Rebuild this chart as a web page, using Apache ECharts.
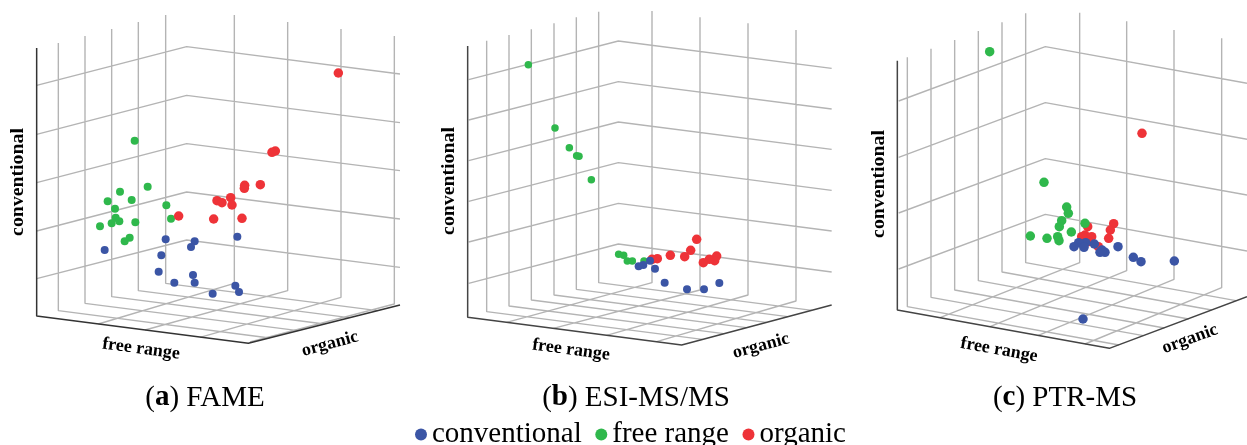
<!DOCTYPE html>
<html><head><meta charset="utf-8">
<style>html,body{margin:0;padding:0;background:#fff}#c{width:1247px;height:445px}</style>
<script src="https://cdn.jsdelivr.net/npm/echarts@6/dist/echarts.min.js"></script>
</head><body><div id="c"></div>
<script>
const seriesNames = ['conventional', 'free range', 'organic'];
const panelTitles = [['a', 'FAME'], ['b', 'ESI-MS/MS'], ['c', 'PTR-MS']];
const axisNames = ['conventional', 'free range', 'organic'];

// Points (plane of the projected 3D plot)
const conventionalA = [[314,660],[497,628],[584,634],[573,651],[712,620],[484,676],[476,725],[579,735],[523,758],[584,758],[638,791],[706,767],[717,786]];
const freeRangeA = [[404,332],[443,470],[360,485],[323,514],[395,510],[345,536],[499,526],[513,566],[347,563],[358,574],[335,580],[406,577],[300,589],[389,623],[374,634]];
const organicA = [[1015,129],[826,363],[816,367],[734,466],[733,475],[781,464],[692,503],[651,512],[666,518],[696,525],[536,558],[641,567],[726,565]];

const conventionalB = [[690,692],[670,705],[656,709],[705,716],[734,758],[801,778],[852,778],[898,759]];
const freeRangeB = [[325,104],[405,294],[448,353],[470,377],[477,379],[514,449],[596,673],[611,676],[622,693],[637,693],[672,693]];
const organicB = [[830,628],[812,661],[794,680],[751,676],[712,686],[696,688],[890,678],[884,692],[868,688],[850,698]];

const conventionalC = [[729,867],[1003,693],[903,695],[880,682],[834,650],[795,667],[780,667],[786,660],[763,642],[737,638],[716,638],[732,652],[702,650]];
const freeRangeC = [[449,65],[612,457],[680,531],[685,550],[665,572],[658,590],[735,580],[694,606],[571,618],[621,625],[653,620],[657,632]];
const organicC = [[906,310],[821,581],[811,600],[806,625],[743,590],[735,615],[755,620],[725,620],[745,635],[775,650]];

// Gridlines of the 3D box: [x, top, bottom]
const uprightsA = [[175,39,842],[255,18,820],[335,-3,800],[415,-24,782],[497,-45,760],[703,-45,760],[863,-24,782],[1023,-3,802],[1183,18,822]];
const uprightsB = [[200,32,845],[267,15,828],[334,-2,810],[402,-20,795],[469,-38,778],[536,-55,758],[696,-57,758],[840,-38,780],[984,-20,795],[1128,0,813]];
const uprightsC = [[202,82,830],[273,56,802],[344,30,780],[415,3,752],[486,-23,726],[557,-50,698],[719,-52,698],[860,-26,722],[1002,0,748],[1145,25,773]];
// Back-wall polylines: [left y, corner y, right y]
const wallsA = [[166,50,132],[313,196,278],[458,341,422],[603,486,567],[746,630,712]];
const wallsB = [[149,33,115],[270,155,237],[392,276,358],[514,398,481],[636,520,603],[760,642,726]];
const wallsC = [[213,50,160],[382,218,328],[549,386,495],[717,553,663]];
const wallXA = [110,560,1200], wallXB = [146,595,1235], wallXC = [176,616,1221];
// Floor lines: end of an upright to the far edge [x, y]
const floorEndsA = [[809,924],[894,902],[973,882],[1047,863],[1133,842],[295,882],[435,900],[600,922],[750,936]];
const floorEndsB = [[847,928],[911,911],[979,893],[1039,877],[1103,860],[1176,841],[260,877],[400,895],[560,916],[710,935]];
const floorEndsC = [[837,945],[910,917],[973,894],[1046,867],[1115,840],[1188,812],[300,863],[450,890],[595,916],[735,942]];
// Dark frame: top of axis, corner, front corner, right end
const frameA = [[110,54],[110,858],[745,940],[1200,825]];
const frameB = [[143,48],[143,862],[785,945],[1235,825]];
const frameC = [[172,92],[172,840],[808,955],[1221,800]];

const colors = ['#3b55a5', '#2fb84c', '#ee3338'];
const panels = [
  {left:0,   w:420, pts:[conventionalA,freeRangeA,organicA], sizes:[8,8,9.5], order:[5,3,4], up:uprightsA, walls:wallsA, wx:wallXA, fl:floorEndsA, fr:frameA, frameColor:'#333',
   cv:[18,182], fr2:[141,349,-7.5], or:[330,344,15], title:205},
  {left:420, w:420, pts:[conventionalB,freeRangeB,organicB], sizes:[8,7.5,9.5], order:[5,3,4], up:uprightsB, walls:wallsB, wx:wallXB, fl:floorEndsB, fr:frameB, frameColor:'#444',
   cv:[449,181], fr2:[571,350,-7.5], or:[761,346,15], title:636},
  {left:840, w:407, pts:[conventionalC,freeRangeC,organicC], sizes:[9.5,9.5,9.5], order:[5,4,3], up:uprightsC, walls:wallsC, wx:wallXC, fl:floorEndsC, fr:frameC, frameColor:'#444',
   cv:[879,184], fr2:[999,350,-10], or:[1190,339,20], title:1065}
];

const grids=[], xAxes=[], yAxes=[], series=[], graphic=[];
const BR=[NaN,NaN];
panels.forEach((p,i)=>{
  grids.push({left:p.left, top:0, width:p.w, height:445});
  xAxes.push({type:'value', gridIndex:i, min:0, max:p.w*3, show:false});
  yAxes.push({type:'value', gridIndex:i, min:-90, max:1245, inverse:true, show:false});
  const g=[];
  p.up.forEach(([x,t,b],k)=>{ g.push([x,t],[x,b],[p.fl[k][0],p.fl[k][1]],BR); });
  p.walls.forEach(([l,c,r])=>{ g.push([p.wx[0],l],[p.wx[1],c],[p.wx[2],r],BR); });
  series.push({type:'line', name:'gridlines', xAxisIndex:i, yAxisIndex:i, data:g, symbol:'none', silent:true, animation:false, z:1,
    lineStyle:{color:'#b4b4b4', width:1.4}});
  series.push({type:'line', name:'frame', xAxisIndex:i, yAxisIndex:i, data:p.fr, symbol:'none', silent:true, animation:false, z:2,
    lineStyle:{color:p.frameColor, width:1.5}});
  [0,1,2].forEach(s=>{
    series.push({type:'scatter', name:seriesNames[s], xAxisIndex:i, yAxisIndex:i, data:p.pts[s], symbol:'circle', symbolSize:p.sizes[s],
      itemStyle:{color:colors[s], opacity:1}, animation:false, z:p.order[s]});
  });
  const axisFont='bold 18px "Liberation Serif"';
  const mid={textAlign:'center', textVerticalAlign:'middle', font:axisFont, fill:'#000'};
  graphic.push({type:'text', x:p.cv[0], y:p.cv[1], rotation:Math.PI/2, scaleX:1.1, style:{...mid, text:axisNames[0]}});
  graphic.push({type:'text', x:p.fr2[0], y:p.fr2[1], rotation:p.fr2[2]*Math.PI/180, style:{...mid, text:axisNames[1]}});
  graphic.push({type:'text', x:p.or[0], y:p.or[1], rotation:p.or[2]*Math.PI/180, style:{...mid, text:axisNames[2]}});
  graphic.push({type:'text', x:p.title, y:398, style:{text:'{n|(}{b|'+panelTitles[i][0]+'}{n|) '+panelTitles[i][1]+'}', textAlign:'center', textVerticalAlign:'middle',
    rich:{n:{font:'29px "Liberation Serif"', fill:'#000'}, b:{font:'bold 29px "Liberation Serif"', fill:'#000'}}}});
});

const chart=echarts.init(document.getElementById('c'),null,{renderer:'canvas'});
chart.setOption({
  animation:false, backgroundColor:'#fff',
  grid:grids, xAxis:xAxes, yAxis:yAxes, series, graphic,
  legend:{data:seriesNames, left:415, top:420, padding:0, icon:'circle', itemWidth:12, itemHeight:15, itemGap:13.5, symbolKeepAspect:false, selectedMode:false,
    textStyle:{fontFamily:'Liberation Serif', fontSize:29, color:'#000'}}
});
</script></body></html>
